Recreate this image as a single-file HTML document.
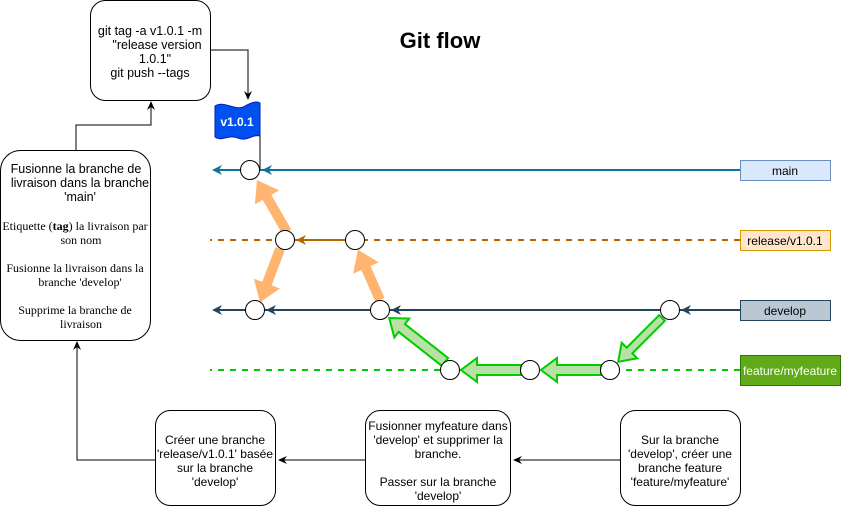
<!DOCTYPE html>
<html><head><meta charset="utf-8"><style>
html,body{margin:0;padding:0;background:#fff;}
svg{display:block;font-family:"Liberation Sans",sans-serif;}
</style></head><body>
<svg width="841" height="511" viewBox="0 0 841 511" xmlns="http://www.w3.org/2000/svg">
<defs>
<marker id="ab" markerWidth="10" markerHeight="10" refX="8" refY="5" orient="auto" markerUnits="userSpaceOnUse"><path d="M0,1 L9,5 L0,9 L3,5 Z" fill="#000"/></marker>
</defs>
<text x="440" y="48" text-anchor="middle" font-size="22" font-weight="bold">Git flow</text>

<rect x="90.5" y="0.5" width="120" height="100" rx="15" fill="#fff" stroke="#000"/>
<g font-size="12.5" text-anchor="middle"><text x="150" y="35">git tag -a v1.0.1 -m</text><text x="157" y="49">"release version</text><text x="155" y="63">1.0.1"</text><text x="150" y="77">git push --tags</text></g>
<polyline points="210,50 248,50 248,99" fill="none" stroke="#000" marker-end="url(#ab)"/>

<path d="M215,106 C225,100 235,112 245,106 C252,102 257,101 260,103 L260,136 C252,134 247,142 238,138 C228,134 222,142 215,137 Z" fill="#0050ef" stroke="#001dbc" stroke-width="1"/>
<text x="237" y="126" text-anchor="middle" font-size="12" font-weight="bold" fill="#fff">v1.0.1</text>
<line x1="260" y1="136" x2="260" y2="170" stroke="#000"/>

<rect x="0.5" y="150.5" width="150" height="190" rx="20" fill="#fff" stroke="#000"/>
<g font-size="12.5" text-anchor="middle"><text x="76" y="173">Fusionne la branche de</text><text x="80" y="187">livraison dans la branche</text><text x="80" y="201">'main'</text></g>
<g font-size="12" text-anchor="middle" font-family="Liberation Serif,serif"><text x="75" y="230">Etiquette (<tspan font-weight="bold">tag</tspan>) la livraison par</text><text x="81" y="244">son nom</text><text x="75" y="272">Fusionne la livraison dans la</text><text x="80" y="286">branche 'develop'</text><text x="75" y="314">Supprime la branche de</text><text x="81" y="328">livraison</text></g>
<polyline points="76,150 76,125 151,125 151,102" fill="none" stroke="#000" marker-end="url(#ab)"/>
<polyline points="155,460 77,460 77,342" fill="none" stroke="#000" marker-end="url(#ab)"/>

<line x1="740" y1="170" x2="214" y2="170" stroke="#10739e" stroke-width="2"/>
<path d="M212,170 L222,165 L219,170 L222,175 Z" fill="#10739e"/>
<path d="M262,170 L272,165 L269,170 L272,175 Z" fill="#10739e"/>
<line x1="740" y1="240" x2="210" y2="240" stroke="#b46504" stroke-width="2" stroke-dasharray="6,6"/>
<line x1="345" y1="240" x2="296" y2="240" stroke="#b46504" stroke-width="2"/>
<path d="M296,240 L306,235 L303,240 L306,245 Z" fill="#b46504"/>
<line x1="740" y1="310" x2="214" y2="310" stroke="#23445d" stroke-width="2"/>
<path d="M212,310 L222,305 L219,310 L222,315 Z" fill="#23445d"/>
<path d="M266,310 L276,305 L273,310 L276,315 Z" fill="#23445d"/>
<path d="M391,310 L401,305 L398,310 L401,315 Z" fill="#23445d"/>
<path d="M681,310 L691,305 L688,310 L691,315 Z" fill="#23445d"/>
<line x1="740" y1="370" x2="210" y2="370" stroke="#00cc00" stroke-width="2" stroke-dasharray="6,6"/>

<g fill="#ffb570">
<g transform="translate(287,232) rotate(-120)"><path d="M0,-5 L40,-5 L40,-14 L60,0 L40,14 L40,5 L0,5 Z"/></g>
<g transform="translate(280,249) rotate(110.6)"><path d="M0,-5 L37,-5 L37,-14 L57,0 L37,14 L37,5 L0,5 Z"/></g>
<g transform="translate(380,300) rotate(-113.7)"><path d="M0,-5 L35,-5 L35,-14 L55,0 L35,14 L35,5 L0,5 Z"/></g>
</g>
<g fill="#b9e0a5" stroke="#00cc00" stroke-width="2">
<g transform="translate(662,318) rotate(135)"><path d="M0,-4 L46,-4 L46,-11 L62,0 L46,11 L46,4 L0,4 Z"/></g>
<g transform="translate(601,370) rotate(180)"><path d="M0,-5 L44,-5 L44,-12 L60,0 L44,12 L44,5 L0,5 Z"/></g>
<g transform="translate(521,370) rotate(180)"><path d="M0,-5 L44,-5 L44,-12 L60,0 L44,12 L44,5 L0,5 Z"/></g>
<g transform="translate(445,362) rotate(-141.8)"><path d="M0,-5 L55,-5 L55,-12 L71,0 L55,12 L55,5 L0,5 Z"/></g>
</g>

<g fill="#fff" stroke="#000" stroke-width="1">
<circle cx="250" cy="170" r="9.5"/>
<circle cx="285" cy="240" r="9.5"/><circle cx="355" cy="240" r="9.5"/>
<circle cx="255" cy="310" r="9.5"/><circle cx="380" cy="310" r="9.5"/><circle cx="670" cy="310" r="9.5"/>
<circle cx="450" cy="370" r="9.5"/><circle cx="530" cy="370" r="9.5"/><circle cx="610" cy="370" r="9.5"/>
</g>

<rect x="740.5" y="160.5" width="90" height="20" fill="#dae8fc" stroke="#6c8ebf"/>
<text x="785" y="175" text-anchor="middle" font-size="12">main</text>
<rect x="740.5" y="230.5" width="90" height="20" fill="#ffe6cc" stroke="#d79b00"/>
<text x="785" y="245" text-anchor="middle" font-size="12">release/v1.0.1</text>
<rect x="740.5" y="300.5" width="90" height="20" fill="#bac8d3" stroke="#23445d"/>
<text x="785" y="315" text-anchor="middle" font-size="12">develop</text>
<rect x="740.5" y="355.5" width="100" height="30" fill="#60a917" stroke="#2d7600"/>
<text x="790" y="375" text-anchor="middle" font-size="12" fill="#fff">feature/myfeature</text>

<rect x="155.5" y="410.5" width="120" height="95" rx="15" fill="#fff" stroke="#000"/>
<g font-size="12" text-anchor="middle"><text x="215" y="444">Créer  une branche</text><text x="215" y="458">'release/v1.0.1' basée</text><text x="215" y="472">sur la branche</text><text x="215" y="486">'develop'</text></g>
<rect x="365.5" y="410.5" width="145" height="95" rx="15" fill="#fff" stroke="#000"/>
<g font-size="12" text-anchor="middle"><text x="438" y="430">Fusionner myfeature dans</text><text x="438" y="444">'develop' et supprimer la</text><text x="438" y="458">branche.</text><text x="438" y="486">Passer sur la branche</text><text x="438" y="500">'develop'</text></g>
<rect x="620.5" y="410.5" width="120" height="95" rx="15" fill="#fff" stroke="#000"/>
<g font-size="12" text-anchor="middle"><text x="680" y="444">Sur la branche</text><text x="680" y="458">'develop', créer une</text><text x="680" y="472">branche feature</text><text x="680" y="486">'feature/myfeature'</text></g>
<line x1="620" y1="460" x2="514" y2="460" stroke="#000" marker-end="url(#ab)"/>
<line x1="365" y1="460" x2="279" y2="460" stroke="#000" marker-end="url(#ab)"/>
</svg>
</body></html>
